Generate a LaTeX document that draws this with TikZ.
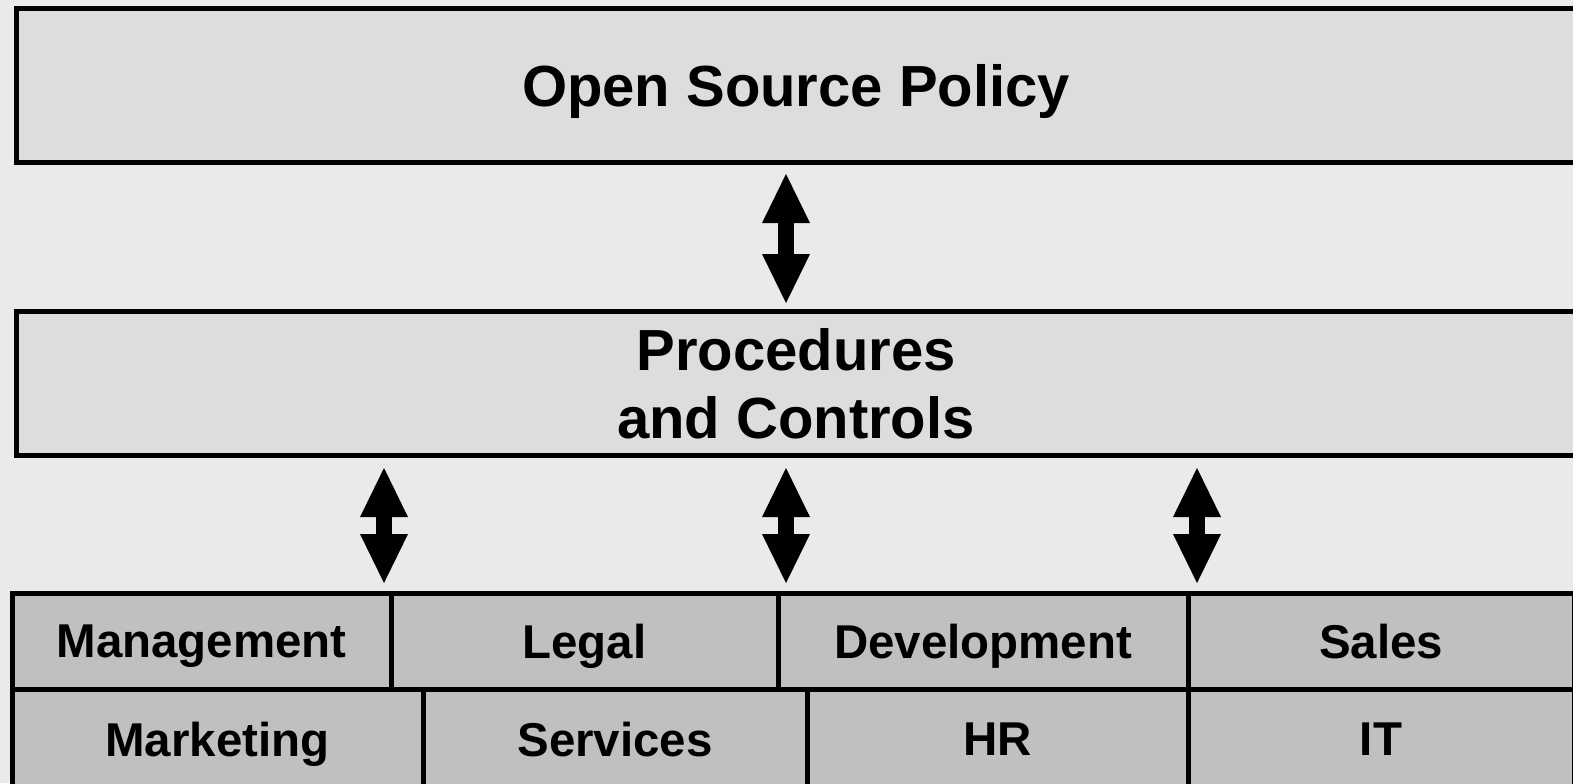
\documentclass[tikz,border=0pt]{standalone}
\usepackage{fontspec}
\setmainfont{Liberation Sans}
\usetikzlibrary{arrows.meta}
\definecolor{bgc}{HTML}{EAEAEA}
\definecolor{boxc}{HTML}{DDDDDD}
\definecolor{cellc}{HTML}{C0C0C0}
\begin{document}
\begin{tikzpicture}[x=0.1mm,y=-0.1mm,
  bigbox/.style={draw, line width=0.5mm, fill=boxc, inner sep=0pt, outer sep=0pt, minimum width=156mm, text depth=0pt, align=center, font=\fontsize{16.5}{19.6}\selectfont\bfseries},
  cell/.style={draw, line width=0.5mm, fill=cellc, inner sep=0pt, outer sep=0pt, text depth=0pt, font=\fontsize{13.5}{16}\selectfont\bfseries},
  link/.style={line width=1.65mm, {Triangle[width=4.8mm, length=4.9mm, line width=0pt]}-{Triangle[width=4.8mm, length=4.9mm, line width=0pt]}}]
\useasboundingbox (0,0) rectangle (1573,783);
\fill[bgc] (0,0) rectangle (1573,783);
\clip (0,0) rectangle (1573,783);
\node[bigbox, minimum height=15.4mm] (policy) at (796,85.5){Open Source Policy};
\node[bigbox, minimum height=14.4mm] (proc) at (796,383.5){Procedures\\and Controls};
% first row
\node[cell, minimum width=37.9mm, minimum height=9.6mm] (mgmt) at (201.5,641){Management};
\node[cell, minimum width=38.7mm, minimum height=9.6mm] (legal) at (584.5,641){Legal};
\node[cell, minimum width=41mm, minimum height=9.6mm] (dev) at (983,641){Development};
\node[cell, minimum width=38.6mm, minimum height=9.6mm] (sales) at (1381,641){Sales};
% second row
\node[cell, minimum width=41.1mm, minimum height=10.1mm] (mkt) at (217.5,739.5){Marketing};
\node[cell, minimum width=38.4mm, minimum height=10.1mm] (serv) at (615,739.5){Services};
\node[cell, minimum width=38.1mm, minimum height=10.1mm] (hr) at (997.5,739.5){HR};
\node[cell, minimum width=38.6mm, minimum height=10.1mm] (it) at (1381,739.5){IT};
\draw[link, shorten <=1.15mm, shorten >=0.85mm] ([xshift=-1mm]policy.south) -- ([xshift=-1mm]proc.north);
\draw[link, shorten <=1.25mm, shorten >=1mm] ([xshift=-41.2mm]proc.south) -- ([xshift=-41.2mm]proc.south |- mgmt.north);
\draw[link, shorten <=1.25mm, shorten >=1mm] ([xshift=-1mm]proc.south) -- ([xshift=-1mm]proc.south |- dev.north);
\draw[link, shorten <=1.25mm, shorten >=1mm] ([xshift=40.1mm]proc.south) -- ([xshift=40.1mm]proc.south |- dev.north);
\end{tikzpicture}
\end{document}
